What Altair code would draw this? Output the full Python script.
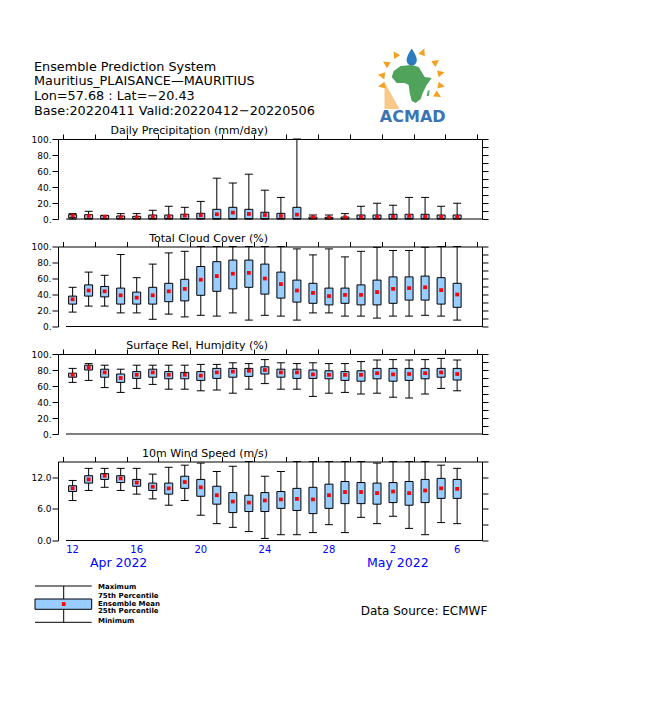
import math
import altair as alt
import pandas as pd

# ---------------- data ----------------
day_index = list(range(25))  # 0 = 12 Apr 2022 ... 24 = 6 May 2022
axis_days = [0, 4, 8, 12, 16, 20, 24]
axis_day_labels = ["12", "16", "20", "24", "28", "2", "6"]
month_days = [2.87, 20.3]
month_labels = ["Apr 2022", "May 2022"]

header_lines = [
    "Ensemble Prediction System",
    "Mauritius_PLAISANCE\u2014MAURITIUS",
    "Lon=57.68 : Lat=\u221220.43",
    "Base:20220411 Valid:20220412\u221220220506",
]
panel_titles = [
    "Daily Precipitation (mm/day)",
    "Total Cloud Cover (%)",
    "Surface Rel. Humidity (%)",
    "10m Wind Speed (m/s)",
]
legend_labels = ["Maximum", "75th Percentile", "Ensemble Mean", "25th Percentile", "Minimum"]

precip_max = [6.7, 9.6, 4.6, 6.7, 6.7, 10.9, 15.9, 14.6, 22, 51, 45, 56, 36, 27, 100,
              5, 5, 6.7, 15.9, 19.7, 17.2, 27, 27, 15.9, 19.7]
precip_q3 = [5.4, 5.4, 4.2, 3.8, 3.3, 5, 5, 5.9, 7.1, 12.1, 14.6, 12.1, 8.4, 7.1, 14.6,
             2.5, 2.1, 2.5, 5, 5, 5.9, 5.9, 5.9, 5, 5]
precip_q1 = [1.7, 0.4, 0.4, 0.4, 0.4, 0.4, 0.4, 0.4, 0.4, 0.4, 0.4, 0.4, 0.4, 0.4, 0.4,
             0.4, 0.4, 0.4, 0.4, 0.4, 0.4, 0.4, 0.4, 0.4, 0.4]
precip_min = [0] * 25
precip_mean = [4.2, 3.8, 2.9, 2.1, 2.1, 2.9, 2.9, 4.2, 4.6, 5.9, 8, 6.3, 5, 3.8, 5.4,
               2.1, 1.7, 2.1, 2.5, 2.5, 2.9, 3.8, 2.9, 2.5, 2.5]

cloud_max = [49, 68, 64, 90, 61, 78, 92, 94, 100, 100, 100, 100, 100, 100, 97,
             89.5, 97, 87, 94, 99, 95, 95, 99, 100, 100]
cloud_q3 = [38, 52, 50, 48, 43, 49, 54, 59, 75, 81, 83, 83, 78, 68, 58,
            54, 48, 48, 52, 58, 62, 62, 63, 61, 54]
cloud_q1 = [28, 38, 37, 28, 28, 28, 31, 32, 39, 44, 47, 49, 40.5, 35.5, 30.5,
            29, 27, 29, 27, 27, 29, 33, 33, 28, 24]
cloud_min = [18, 25.5, 25.5, 17, 17, 9, 15.5, 12, 14, 13, 17, 8, 14, 13, 8,
             17, 17, 13, 13, 10.5, 13, 13, 14, 13, 8]
cloud_mean = [34, 45, 44, 39, 36, 39, 44, 47, 58.5, 63, 66, 67, 60, 53, 45,
              42, 38, 39.5, 39.5, 43, 47, 48, 49, 45.5, 40]

rh_max = [82, 88, 86, 81, 86, 86, 86, 86, 87, 87, 89, 88, 93, 89, 88,
          89, 88, 88, 90.5, 92.5, 93, 92.5, 93, 94.5, 92.5]
rh_q3 = [76, 86, 81, 75, 78, 81, 78, 77, 78, 82, 82, 82, 84, 81, 81,
         80, 79, 78, 79, 82, 82, 82, 82, 82, 82]
rh_q1 = [71, 80, 71, 64.5, 69.5, 71, 69, 69, 67, 69.5, 71, 72, 75, 71, 69.5,
         69.5, 69, 67, 66, 69, 66, 67, 69, 71, 67.5]
rh_min = [64.5, 67, 58, 52, 57, 62, 56, 56, 54, 55, 51, 56, 63, 56, 56,
          47, 51, 52, 50, 51, 46, 45, 50, 57, 54]
rh_mean = [74, 83, 77, 70, 74, 77, 74, 74, 73, 77, 78, 79, 80, 77, 77,
           74.5, 74, 74, 74, 76, 74.5, 75, 76, 77, 75]

wind_max = [11.4, 13.7, 13.7, 13.7, 13.7, 12.6, 13.9, 14.3, 14.7, 13.1, 14.1, 15, 12.2, 13.1, 15,
            15, 15, 15, 15, 14.7, 15, 15, 15, 14.3, 13.7]
wind_q3 = [10.4, 12.3, 12.7, 12.3, 11.6, 10.9, 10.9, 12.2, 11.6, 10.3, 9.1, 8.6, 9.1, 9.3, 9.9,
           10.1, 10.7, 11.2, 11.0, 10.9, 11.0, 11.2, 11.6, 11.8, 11.6]
wind_q1 = [9.3, 10.9, 11.6, 11.0, 10.3, 9.5, 8.8, 9.9, 8.4, 6.9, 5.3, 5.5, 5.5, 6.1, 5.7,
           5.1, 6.1, 7.0, 7.0, 6.9, 7.2, 6.7, 7.2, 8.0, 8.0]
wind_min = [7.6, 9.5, 10.1, 9.5, 8.8, 7.9, 6.7, 7.6, 4.8, 3.2, 2.5, 1.7, 0.4, 1.1, 1.1,
            1.5, 3.0, 1.5, 4.4, 3.2, 4.6, 2.3, 1.1, 3.4, 3.2]
wind_mean = [9.9, 11.6, 12.3, 11.8, 11.0, 10.2, 9.9, 11.1, 10.1, 8.6, 7.4, 7.2, 7.6, 7.8, 7.9,
             7.8, 8.6, 9.2, 9.2, 9.0, 9.3, 9.0, 9.5, 9.9, 9.8]

# ---------------- style ----------------
FONT = "DejaVu Sans"
BOX = "#99ccff"
BLUE = "#0000ff"
XDOM = [-0.6, 25.24]
TOP_TICKS = [XDOM[0]] + [1.38 + 1.99 * k for k in range(12)] + [XDOM[1]]
W = 424

one = pd.DataFrame({"k": [0]})


def vtext(text, x, y, **kw):
    return alt.Chart(one).mark_text(text=text, font=FONT, color="black", **kw).encode(
        x=alt.value(x), y=alt.value(y))


def make_df(mx, q3, q1, mn, mean):
    return pd.DataFrame({"day": day_index, "mx": mx, "q3": q3, "q1": q1, "mn": mn, "mean": mean})


def panel(df, ydom, height, left_vals, right_vals, label_expr, title, extras=None):
    xenc = alt.X("day:Q", scale=alt.Scale(domain=XDOM, nice=False, zero=False),
                 axis=alt.Axis(orient="top", values=TOP_TICKS, labels=False, tickSize=5,
                               tickColor="black", domainColor="black", grid=False, title=None))
    ys = alt.Scale(domain=ydom, nice=False, zero=False)
    left_axis = alt.Axis(orient="left", values=left_vals, labelExpr=label_expr, tickSize=6,
                         labelPadding=1, labelFont=FONT, labelFontSize=9, labelColor="black",
                         tickColor="black", domainColor="black", grid=False, title=None,
                         labelFlush=False, labelOverlap=False)
    right_axis = alt.Axis(orient="right", values=right_vals, labels=False, tickSize=6,
                          tickColor="black", domainColor="black", grid=False, title=None)
    base = alt.Chart(df)
    layers = [
        base.mark_rule(color="black", strokeWidth=1).encode(
            x=xenc, y=alt.Y("mn:Q", scale=ys, axis=left_axis), y2=alt.Y2("mx:Q")),
        base.mark_point(opacity=0, size=1).encode(
            x=xenc, y=alt.Y("mx:Q", scale=ys, axis=right_axis)),
        base.mark_bar(size=8, fill=BOX, stroke="black", strokeWidth=1).encode(
            x=xenc, y=alt.Y("q1:Q", scale=ys, axis=None), y2=alt.Y2("q3:Q")),
        base.mark_point(shape="stroke", size=64, stroke="black", strokeWidth=1,
                        filled=False, opacity=1).encode(
            x=xenc, y=alt.Y("mx:Q", scale=ys, axis=None)),
        base.mark_point(shape="stroke", size=64, stroke="black", strokeWidth=1,
                        filled=False, opacity=1).encode(
            x=xenc, y=alt.Y("mn:Q", scale=ys, axis=None)),
        base.mark_point(shape="square", size=14, filled=True, color="#ff0000", opacity=1).encode(
            x=xenc, y=alt.Y("mean:Q", scale=ys, axis=None)),
        alt.Chart(one).mark_rule(color="black", strokeWidth=1).encode(
            x=alt.value(8), x2=alt.value(W), y=alt.value(height)),
        vtext(title, 210, -5, align="right", baseline="alphabetic", fontSize=11),
    ]
    if extras:
        layers += extras(xenc)
    return alt.layer(*layers).resolve_axis(y="independent").properties(width=W, height=height)


# ----- logo shapes (pixel paths, size=4 -> scale 1) -----
def sun_path():
    parts = []
    for a in [169, -171, -147, -122, -68, -36, -13, 11, 30]:
        r = math.radians(a)
        c, s = math.cos(r), math.sin(r)
        tip = (34 * c, 34 * s)
        b1 = (27 * c - 3.5 * s, 27 * s + 3.5 * c)
        b2 = (27 * c + 3.5 * s, 27 * s - 3.5 * c)
        parts.append("M%.2f,%.2fL%.2f,%.2fL%.2f,%.2fZ" % (tip[0], tip[1], b1[0], b1[1], b2[0], b2[1]))
    return "".join(parts)


AFRICA = ("M-0.55,-0.9 L0,-0.95 L0.35,-0.85 L0.5,-0.6 L0.65,-0.35 L1,-0.3 L0.75,0.05 "
          "L0.55,0.45 L0.45,0.75 L0.2,0.95 L0,0.85 L-0.1,0.45 L-0.15,0.05 L-0.35,-0.05 "
          "L-0.75,-0.05 L-1,-0.35 L-0.9,-0.65 Z M0.8,0.35 L0.9,0.3 L0.85,0.6 L0.75,0.6 Z")
DROP = ("M0,-1 C0.35,-0.45 0.6,-0.05 0.6,0.35 C0.6,0.75 0.3,1 0,1 C-0.3,1 -0.6,0.75 "
        "-0.6,0.35 C-0.6,-0.05 -0.35,-0.45 0,-1 Z")
FAN = "M-27,2 L-27,29 L-12,29 Z"


def header_extras(xenc):
    return [
        alt.Chart(one).mark_rect(opacity=0).encode(
            x=alt.value(-45), x2=alt.value(-44), y=alt.value(-126), y2=alt.value(-125)),
        vtext(header_lines, -24, -68.3, align="left", baseline="alphabetic",
              fontSize=12.8, lineHeight=14.8),
        alt.Chart(one).mark_point(shape=FAN, size=4, filled=True, color="#f9c98c", opacity=1,
                                  strokeWidth=0).encode(x=alt.value(353.5), y=alt.value(-59)),
        alt.Chart(one).mark_point(shape=sun_path(), size=4, filled=True, color="#f5a020",
                                  opacity=1, strokeWidth=0).encode(x=alt.value(353.5), y=alt.value(-59)),
        alt.Chart(one).mark_point(shape=AFRICA, size=1600, filled=True, color="#4fa35a",
                                  opacity=1, strokeWidth=0).encode(x=alt.value(353.7), y=alt.value(-55)),
        alt.Chart(one).mark_point(shape=DROP, size=289, filled=True, color="#2b7bbf",
                                  opacity=1, strokeWidth=0).encode(x=alt.value(353.7), y=alt.value(-82)),
        alt.Chart(one).mark_text(text="ACMAD", font=FONT, fontWeight="bold", fontSize=16,
                                 color="#3b74b5", align="center", baseline="alphabetic").encode(
            x=alt.value(354.7), y=alt.value(-17.3)),
    ]


def footer_extras(xenc):
    day_df = pd.DataFrame({"day": axis_days, "lab": axis_day_labels})
    mon_df = pd.DataFrame({"day": month_days, "lab": month_labels})
    out = [
        alt.Chart(day_df).mark_text(font=FONT, fontSize=10, color=BLUE, baseline="alphabetic",
                                    align="center").encode(x=xenc, y=alt.value(91.8), text="lab:N"),
        alt.Chart(mon_df).mark_text(font=FONT, fontSize=12.5, color=BLUE, baseline="alphabetic",
                                    align="center").encode(x=xenc, y=alt.value(105.8), text="lab:N"),
        # legend sketch
        alt.Chart(one).mark_rule(color="black", strokeWidth=1).encode(
            x=alt.value(-23), x2=alt.value(33.7), y=alt.value(124.5)),
        alt.Chart(one).mark_rule(color="black", strokeWidth=1).encode(
            x=alt.value(5.7), y=alt.value(124.5), y2=alt.value(137.5)),
        alt.Chart(one).mark_rule(color="black", strokeWidth=1).encode(
            x=alt.value(5.7), y=alt.value(147.8), y2=alt.value(160.8)),
        alt.Chart(one).mark_rule(color="black", strokeWidth=1).encode(
            x=alt.value(-23), x2=alt.value(33.7), y=alt.value(160.8)),
        alt.Chart(one).mark_rect(fill=BOX, stroke="black", strokeWidth=1).encode(
            x=alt.value(-23), x2=alt.value(33.7), y=alt.value(137.5), y2=alt.value(147.8)),
        alt.Chart(one).mark_point(shape="square", size=14, filled=True, color="#ff0000",
                                  opacity=1).encode(x=alt.value(5.7), y=alt.value(142.6)),
        vtext("Data Source: ECMWF", 302.7, 149, align="left", baseline="middle", fontSize=12),
    ]
    for lab, yy in zip(legend_labels, [125.5, 134.5, 142, 149.5, 159]):
        out.append(vtext(lab, 40, yy, align="left", baseline="middle", fontSize=7,
                         fontWeight="bold"))
    return out


p1 = panel(make_df(precip_max, precip_q3, precip_q1, precip_min, precip_mean), [0, 100], 80,
           [0, 20, 40, 60, 80, 100], list(range(0, 101, 10)), "datum.value + '.'",
           panel_titles[0], header_extras)
p2 = panel(make_df(cloud_max, cloud_q3, cloud_q1, cloud_min, cloud_mean), [0, 100], 80,
           [0, 20, 40, 60, 80, 100], list(range(0, 101, 10)), "datum.value + '.'",
           panel_titles[1])
p3 = panel(make_df(rh_max, rh_q3, rh_q1, rh_min, rh_mean), [0, 100], 80,
           [0, 20, 40, 60, 80, 100], list(range(0, 101, 10)), "datum.value + '.'",
           panel_titles[2])
p4 = panel(make_df(wind_max, wind_q3, wind_q1, wind_min, wind_mean), [0, 15], 79,
           [0, 6, 12], [0, 3, 6, 9, 12, 15], "format(datum.value, '.1f')",
           panel_titles[3], footer_extras)

chart = alt.vconcat(p1, p2, p3, p4, spacing=27.5, bounds="flush").properties(
    padding={"left": 5, "top": 5, "right": 5, "bottom": 5},
    background="white",
).configure_view(stroke=None)

chart.save("out.html", embed_options={"renderer": "svg", "actions": False})
